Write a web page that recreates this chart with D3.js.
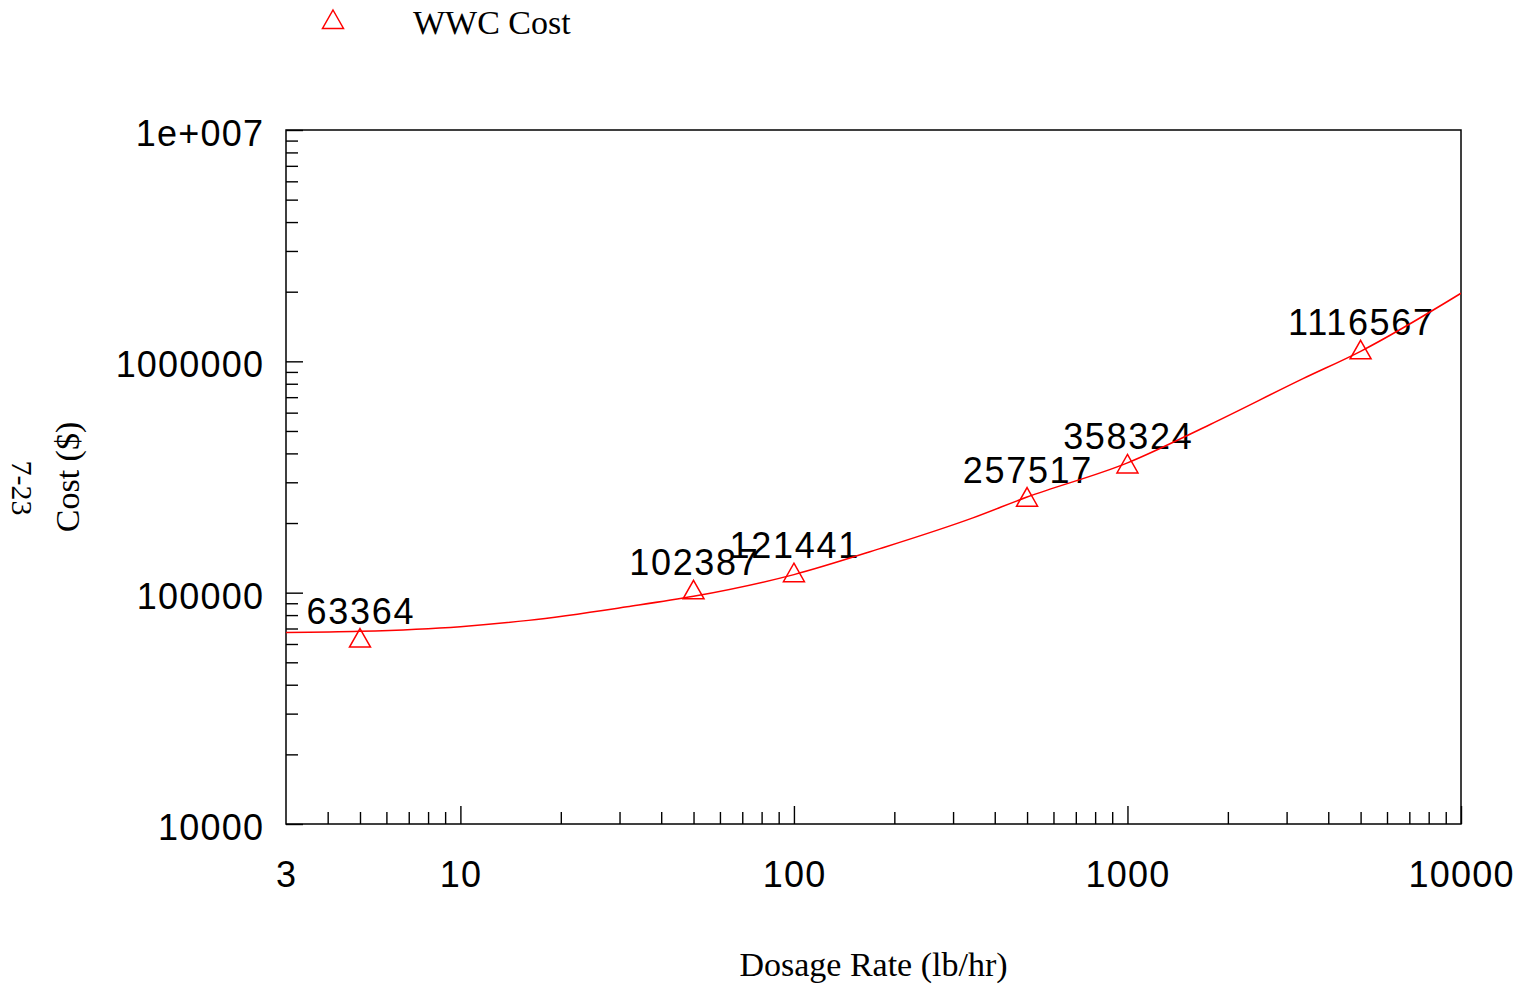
<!DOCTYPE html>
<html>
<head>
<meta charset="utf-8">
<script src="https://cdn.jsdelivr.net/npm/d3@7"></script>
<style>
  html, body { margin: 0; padding: 0; background: #fff; }
  svg { display: block; }
</style>
</head>
<body>
<svg id="chart" width="1522" height="989"></svg>
<script>
// Measured dosage rates and WWC costs
const dosage = [5, 50, 100, 500, 1000, 5000];
const cost = [63364, 102387, 121441, 257517, 358324, 1116567];

// Trend curve through the cost data
const fitDosage = [3, 5, 10, 16, 31.6, 50, 100, 180, 344, 500, 1000, 1770, 3360, 5000, 10000];
const fitCost = [67300, 68100, 71300, 75900, 86900, 96400, 119700, 154600, 210500, 259000, 364000, 533500, 841500, 1105000, 1969000];

// Axis tick labels
const xTickValues = [3, 10, 100, 1000, 10000];
const xTickLabels = ["3", "10", "100", "1000", "10000"];
const yTickValues = [1e4, 1e5, 1e6, 1e7];
const yTickLabels = ["10000", "100000", "1000000", "1e+007"];

const svg = d3.select("#chart");
const plot = { left: 286, right: 1461, top: 130, bottom: 824 };

const x = d3.scaleLog().domain([3, 10000]).range([plot.left, plot.right]);
const y = d3.scaleLog().domain([1e4, 1e7]).range([plot.bottom, plot.top]);

const sans = "'Liberation Sans', Arial, Helvetica, sans-serif";
const serif = "'Liberation Serif', 'Times New Roman', serif";

const isPow10 = v => Math.abs(Math.log10(v) - Math.round(Math.log10(v))) < 1e-9;

// Tick marks point inward from the bottom and left edges
const xMinor = x.ticks().filter(v => !isPow10(v) && v > 3);
const xMajor = x.ticks().filter(v => isPow10(v));
const yMinor = y.ticks().filter(v => !isPow10(v));
const yMajor = y.ticks().filter(v => isPow10(v));

const gx = svg.append("g").attr("transform", `translate(0,${plot.bottom})`);
gx.call(d3.axisBottom(x).tickValues(xMinor).tickSize(-12).tickFormat(""));
gx.append("g").call(d3.axisBottom(x).tickValues(xMajor).tickSize(-18).tickFormat(""));

const gy = svg.append("g").attr("transform", `translate(${plot.left},0)`);
gy.call(d3.axisLeft(y).tickValues(yMinor).tickSize(-12).tickFormat(""));
gy.append("g").call(d3.axisLeft(y).tickValues(yMajor).tickSize(-17).tickFormat(""));

svg.selectAll(".domain").remove();
svg.selectAll(".tick line").attr("stroke", "#000").attr("stroke-width", 1.4);

// Plot frame
svg.append("rect")
  .attr("x", plot.left).attr("y", plot.top)
  .attr("width", plot.right - plot.left).attr("height", plot.bottom - plot.top)
  .attr("fill", "none").attr("stroke", "#000").attr("stroke-width", 1.5);

// Tick labels
const tickSpacing = 1.2;
svg.append("g").selectAll("text").data(xTickValues).join("text")
  .attr("x", d => x(d) + tickSpacing / 2).attr("y", 887)
  .attr("text-anchor", "middle")
  .attr("font-family", sans).attr("font-size", 36)
  .attr("letter-spacing", tickSpacing)
  .text((d, i) => xTickLabels[i]);

svg.append("g").selectAll("text").data(yTickValues).join("text")
  .attr("x", 263 + tickSpacing).attr("y", d => y(d) + 16)
  .attr("text-anchor", "end")
  .attr("font-family", sans).attr("font-size", 36)
  .attr("letter-spacing", tickSpacing)
  .text((d, i) => yTickLabels[i]);

// Axis titles
svg.append("text")
  .attr("x", (plot.left + plot.right) / 2).attr("y", 976)
  .attr("text-anchor", "middle")
  .attr("font-family", serif).attr("font-size", 34)
  .text("Dosage Rate (lb/hr)");

svg.append("text")
  .attr("transform", `translate(79,${(plot.top + plot.bottom) / 2}) rotate(-90)`)
  .attr("text-anchor", "middle")
  .attr("font-family", serif).attr("font-size", 34)
  .text("Cost ($)");

svg.append("text")
  .attr("transform", "translate(12,488) rotate(90)")
  .attr("text-anchor", "middle")
  .attr("font-family", serif).attr("font-size", 30)
  .text("7-23");

// Value labels above each point
const labelSpacing = 1.7;
svg.append("g").selectAll("text").data(dosage).join("text")
  .attr("x", d => x(d) + labelSpacing / 2).attr("y", (d, i) => y(cost[i]) - 15)
  .attr("text-anchor", "middle")
  .attr("font-family", sans).attr("font-size", 36)
  .attr("letter-spacing", labelSpacing)
  .text((d, i) => String(cost[i]));

// Trend curve
svg.append("clipPath").attr("id", "plot-clip")
  .append("rect")
  .attr("x", plot.left).attr("y", plot.top)
  .attr("width", plot.right - plot.left).attr("height", plot.bottom - plot.top);

svg.append("path")
  .datum(fitDosage.map((d, i) => [d, fitCost[i]]))
  .attr("clip-path", "url(#plot-clip)")
  .attr("fill", "none").attr("stroke", "#ff0000").attr("stroke-width", 1.5)
  .attr("d", d3.line().x(d => x(d[0])).y(d => y(d[1])).curve(d3.curveMonotoneX));

// Open triangle markers
const tri = "M0,-10L10.5,8.5L-10.5,8.5Z";
svg.append("g").selectAll("path").data(dosage).join("path")
  .attr("transform", (d, i) => `translate(${x(d)},${y(cost[i])})`)
  .attr("d", tri)
  .attr("fill", "none").attr("stroke", "#ff0000").attr("stroke-width", 1.5);

// Legend
svg.append("path")
  .attr("transform", "translate(333,20)")
  .attr("d", tri)
  .attr("fill", "none").attr("stroke", "#ff0000").attr("stroke-width", 1.5);
svg.append("text")
  .attr("x", 413).attr("y", 34)
  .attr("font-family", serif).attr("font-size", 34)
  .text("WWC Cost");
</script>
</body>
</html>
